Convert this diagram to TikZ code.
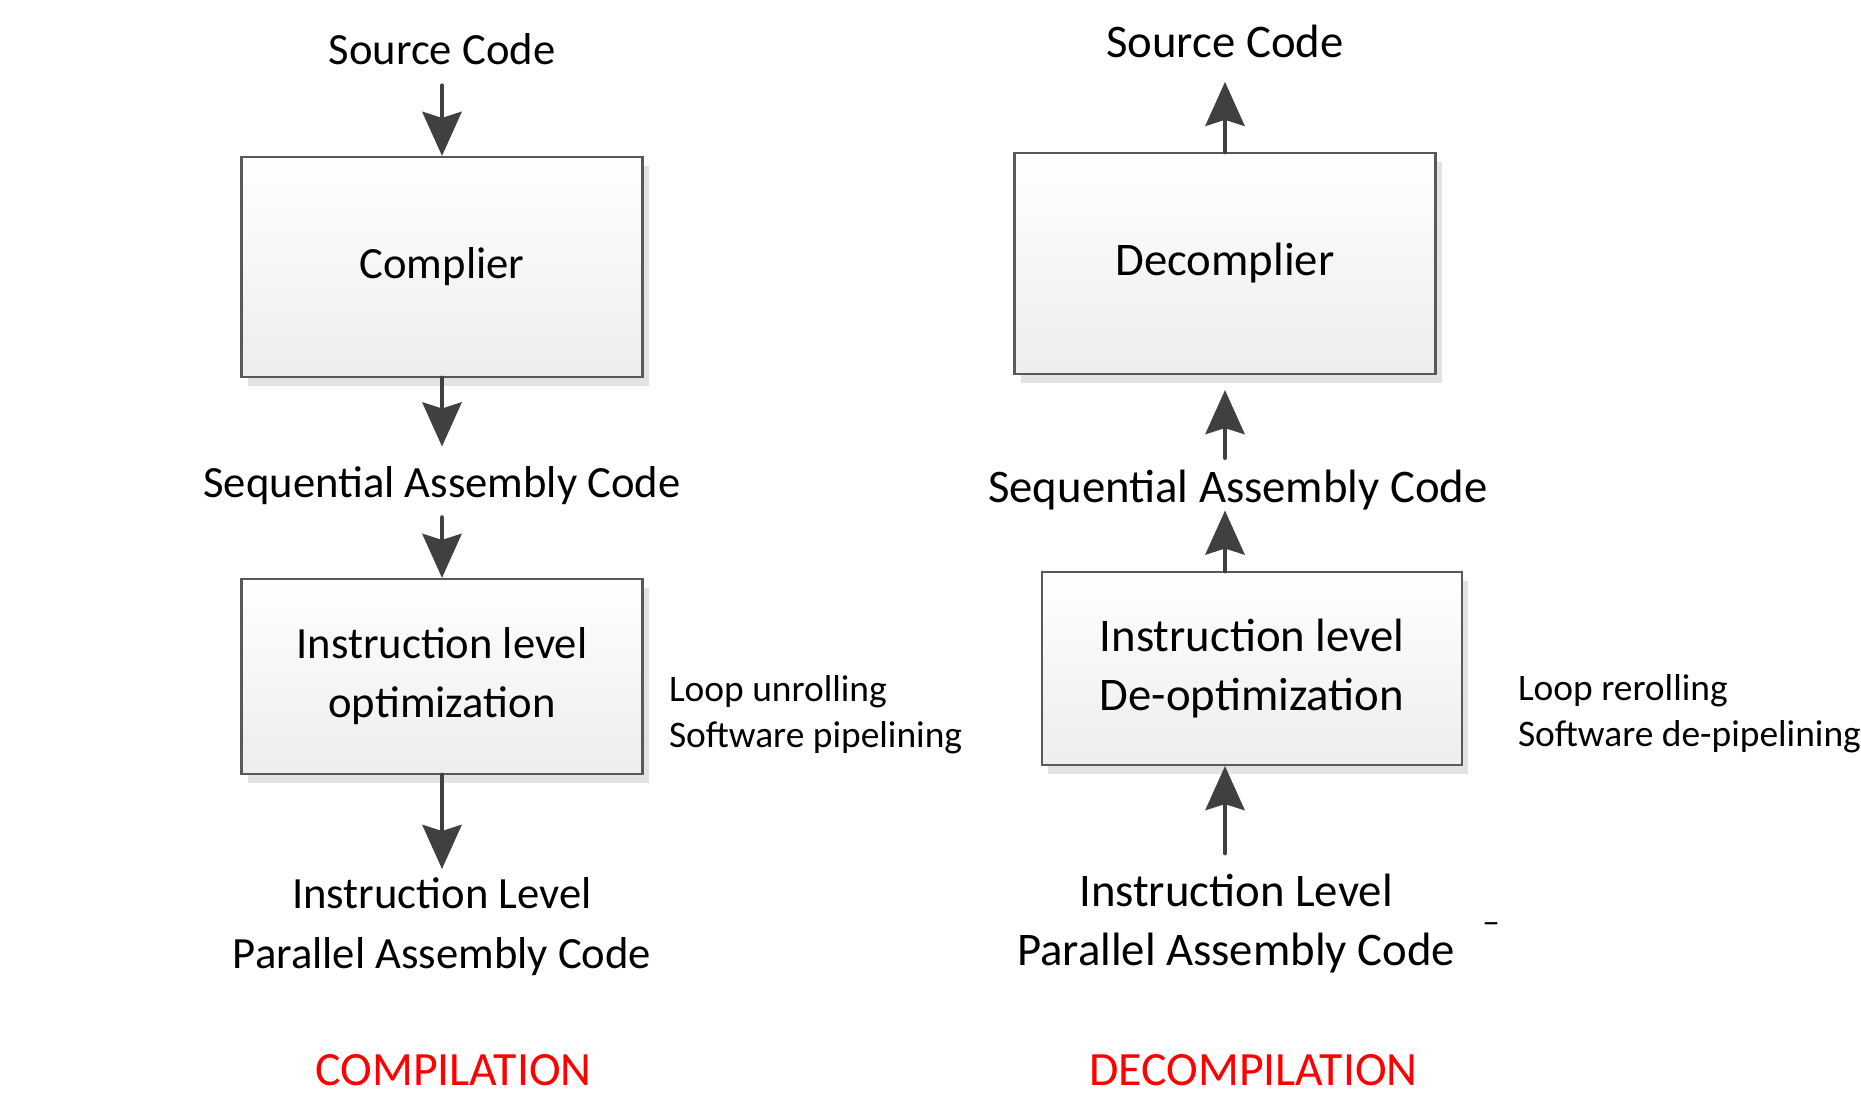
\documentclass[tikz,border=0pt]{standalone}
\usepackage{fontspec}
\setmainfont{Carlito}
\usetikzlibrary{arrows.meta,shadows,positioning}

\newcommand{\mainsz}{\fontsize{12.7pt}{16.8pt}\selectfont}
\newcommand{\rightsz}{\fontsize{13.3pt}{16.8pt}\selectfont}
\newcommand{\sidesz}{\fontsize{10.65pt}{13.1pt}\selectfont}
\newcommand{\redsz}{\fontsize{13.6pt}{16pt}\selectfont}

\begin{document}
\begin{tikzpicture}[blk/.style={draw=black!65,line width=0.6pt,top color=white,bottom color=black!7,
		drop shadow={shadow xshift=0.06cm,shadow yshift=-0.09cm,fill=black!11,opacity=1},
		inner sep=0,align=center,font=\mainsz},
	txt/.style={inner sep=0,outer sep=0,align=center,font=\mainsz},
	side/.style={inner sep=0,outer sep=0,align=left,font=\sidesz},
	lbl/.style={inner sep=0,text=red,font=\redsz},
	flow/.style={-{Stealth[length=0.44cm,width=0.39cm,inset=0.06cm]},line width=1.4pt,draw=black!75,line cap=round}]
	\useasboundingbox (0,0) rectangle (18.61,-10.98);
	% compilation
	\node[txt,anchor=base] (0) at (4.42,-0.645) {Source Code};
	\node[blk,minimum width=4.01cm,minimum height=2.20cm] (1) at (4.42,-2.67) {Complier};
	\node[txt,anchor=base] (2) at (4.42,-4.975) {Sequential Assembly Code};
	\node[blk,minimum width=4.01cm,minimum height=1.95cm] (3) at (4.42,-6.765) {Instruction level\\optimization};
	\node[txt,anchor=north] (4) at (4.42,-8.78) {Instruction Level\\Parallel Assembly Code};
	\node[side,anchor=west] (5) at (6.69,-7.145) {Loop unrolling\\Software pipelining};
	\node[lbl] (6) at (4.535,-10.70) {COMPILATION};
	\draw[flow,shorten <=0.21cm] (0.south) to (1.north);
	\draw[flow,shorten >=0.20cm] (1.south) to (2.north);
	\draw[flow,shorten <=0.13cm] (2.south) to (3.north);
	\draw[flow,shorten >=0.09cm] (3.south) to (4.north);
	% decompilation
	\begin{scope}[txt/.append style={font=\rightsz},blk/.append style={font=\rightsz}]
	\node[txt,anchor=base] (7) at (12.25,-0.575) {Source Code};
	\node[blk,minimum width=4.21cm,minimum height=2.21cm] (8) at (12.25,-2.635) {Decomplier};
	\node[txt,anchor=base] (9) at (12.38,-5.03) {Sequential Assembly Code};
	\node[blk,minimum width=4.20cm,minimum height=1.93cm] (10) at (12.52,-6.685) {Instruction level\\De-optimization};
	\node[txt,anchor=north] (11) at (12.36,-8.74) {Instruction Level\\Parallel Assembly Code};
	\end{scope}
	\node[side,anchor=west] (12) at (15.18,-7.14) {Loop rerolling\\Software de-pipelining};
	\node[lbl] (13) at (12.535,-10.70) {DECOMPILATION};
	\node[inner sep=0,font=\fontsize{10pt}{10pt}\selectfont] (14) at (14.91,-9.28) {–};
	\draw[flow,shorten >=0.24cm] (8.north) to (7.south);
	\draw[flow,shorten <=0.13cm,shorten >=0.15cm] (9.north -| 8.south) to (8.south);
	\draw[flow] (10.north -| 8.south) to (9.south -| 8.south);
	\draw[flow,shorten <=0.21cm] (11.north -| 8.south) to (10.south -| 8.south);
\end{tikzpicture}
\end{document}
